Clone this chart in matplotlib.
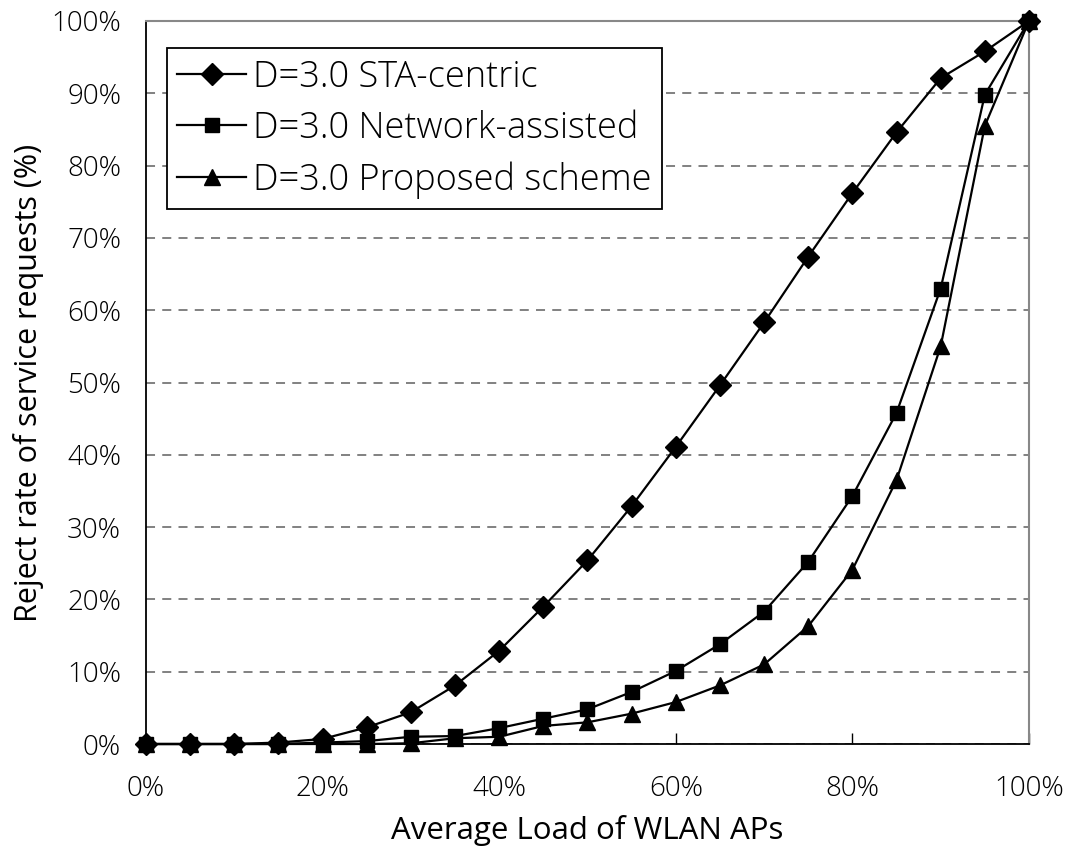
import matplotlib
matplotlib.use("Agg")
import matplotlib.pyplot as plt
from matplotlib.ticker import FuncFormatter, MultipleLocator

plt.rcParams['font.family'] = ['Open Sans', 'DejaVu Sans']
plt.rcParams['font.weight'] = 'light'

load = [0, 5, 10, 15, 20, 25, 30, 35, 40, 45, 50, 55, 60, 65, 70, 75, 80, 85, 90, 95, 100]
sta_centric = [0, 0, 0, 0.2, 0.7, 2.3, 4.4, 8.1, 12.9, 19.0, 25.4, 32.9, 41.1, 49.6, 58.3, 67.4, 76.2, 84.6, 92.1, 95.8, 100]
network_assisted = [0, 0, 0, 0, 0.2, 0.4, 1.0, 1.1, 2.2, 3.5, 4.8, 7.2, 10.1, 13.8, 18.3, 25.2, 34.3, 45.8, 63.0, 89.8, 100]
proposed = [0, 0, 0, 0, 0, 0, 0.1, 0.8, 1.0, 2.5, 3.0, 4.2, 5.8, 8.1, 11.0, 16.3, 24.1, 36.5, 55.0, 85.5, 100]
labels = ["D=3.0 STA-centric", "D=3.0 Network-assisted", "D=3.0 Proposed scheme"]

fig = plt.figure(figsize=(10.76, 8.5), dpi=100)
ax = fig.add_axes([0.1357, 0.1247, 0.8206, 0.8506])

ax.plot(load, sta_centric, color='black', lw=1.6, marker='D', ms=11, label=labels[0],
        clip_on=False, zorder=3)
ax.plot(load, network_assisted, color='black', lw=1.6, marker='s', ms=10, label=labels[1],
        clip_on=False, zorder=5)
ax.plot(load, proposed, color='black', lw=1.6, marker='^', ms=11, label=labels[2],
        clip_on=False, zorder=4)

ax.set_xlim(0, 100)
ax.set_ylim(0, 100)
ax.xaxis.set_major_locator(MultipleLocator(20))
ax.yaxis.set_major_locator(MultipleLocator(10))
pct = FuncFormatter(lambda v, p: f"{v:.0f}%")
ax.xaxis.set_major_formatter(pct)
ax.yaxis.set_major_formatter(pct)
ax.yaxis.grid(True, linestyle=(0, (5, 4)), color='#777777', lw=1.3)
ax.set_axisbelow(True)

for s in ['top', 'right']:
    ax.spines[s].set_color('#888888')
    ax.spines[s].set_linewidth(1.5)
for s in ['left', 'bottom']:
    ax.spines[s].set_color('black')
    ax.spines[s].set_linewidth(1.3)

ax.tick_params(axis='y', length=0, pad=18, labelsize=20)
ax.tick_params(axis='x', direction='in', length=8, width=1, pad=22, labelsize=20)

ax.set_xlabel("Average Load of WLAN APs", fontsize=22.5, va='baseline')
ax.xaxis.set_label_coords(0.5, -0.1314)
ax.set_ylabel("Reject rate of service requests (%)", fontsize=22, labelpad=5)

leg = ax.legend(loc='upper left', bbox_to_anchor=(0.024, 0.962), fontsize=26,
                frameon=True, fancybox=False, edgecolor='black', framealpha=1,
                borderpad=0.28, labelspacing=0.4, handlelength=1.9, handletextpad=0.2,
                borderaxespad=0)
leg.get_frame().set_linewidth(1.3)

fig.savefig("out.png", dpi=100)
